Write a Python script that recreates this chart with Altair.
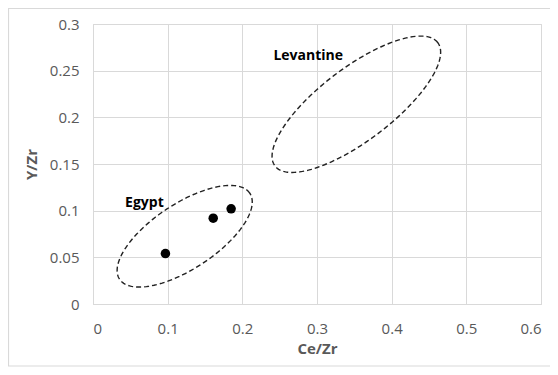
import altair as alt
import numpy as np
import pandas as pd

# Data points (Ce/Zr, Y/Zr)
pts_x = [0.097, 0.161, 0.185]
pts_y = [0.054, 0.092, 0.102]

# Group ellipses: centre, major and minor semi-axis vectors (data units)
ell_names = ["Egypt", "Levantine"]
ell_cx = [0.1228, 0.3527]
ell_cy = [0.0726, 0.2140]
ell_major_dx = [0.0872, 0.1089]
ell_major_dy = [0.0461, 0.0662]
ell_minor_dx = [-0.0242, -0.0298]
ell_minor_dy = [0.0290, 0.0309]

# Group labels
label_text = ["Egypt", "Levantine"]
label_x = [0.043, 0.2416]
label_y = [0.108, 0.266]

x_ticks = [0, 0.1, 0.2, 0.3, 0.4, 0.5, 0.6]
y_ticks = [0, 0.05, 0.1, 0.15, 0.2, 0.25, 0.3]

pts = pd.DataFrame({"x": pts_x, "y": pts_y})

rows = []
t = np.linspace(0, 2 * np.pi, 145)
for k, name in enumerate(ell_names):
    for i, tt in enumerate(t):
        rows.append({
            "name": name,
            "i": i,
            "x": ell_cx[k] + ell_major_dx[k] * np.cos(tt) + ell_minor_dx[k] * np.sin(tt),
            "y": ell_cy[k] + ell_major_dy[k] * np.cos(tt) + ell_minor_dy[k] * np.sin(tt),
        })
ell = pd.DataFrame(rows)
labels = pd.DataFrame({"text": label_text, "x": label_x, "y": label_y})

GRID = "#d9d9d9"
TXT = "#595959"
FONT = "Open Sans"

xs = alt.Scale(domain=[0, 0.6], nice=False, zero=False)
ys = alt.Scale(domain=[0, 0.3], nice=False, zero=False)
xax = alt.Axis(values=x_ticks, format="~g", title="Ce/Zr", grid=True, ticks=False,
               labelPadding=17, titlePadding=5)
yax = alt.Axis(values=y_ticks, format="~g", title="Y/Zr", grid=True, ticks=False,
               labelPadding=14, titlePadding=10)

border = alt.Chart(pd.DataFrame({"a": [0]})).mark_rect(
    filled=False, stroke=GRID, strokeWidth=1.2, clip=False
).encode(
    x=alt.value(-84.5), x2=alt.value(470), y=alt.value(-15.5), y2=alt.value(342)
)

ellipses = alt.Chart(ell).mark_line(
    color="#222222", strokeWidth=1.4, strokeDash=[5, 3]
).encode(
    x=alt.X("x:Q", scale=xs, axis=xax),
    y=alt.Y("y:Q", scale=ys, axis=yax),
    detail="name:N",
    order="i:Q",
)

points = alt.Chart(pts).mark_circle(size=90, color="black", opacity=1).encode(
    x=alt.X("x:Q", scale=xs),
    y=alt.Y("y:Q", scale=ys),
)

texts = alt.Chart(labels).mark_text(
    align="left", baseline="middle", font=FONT, fontSize=14, fontWeight="bold", color="black"
).encode(
    x=alt.X("x:Q", scale=xs),
    y=alt.Y("y:Q", scale=ys),
    text="text:N",
)

chart = alt.layer(border, ellipses, points, texts).properties(
    width=448,
    height=280,
    padding={"left": 85, "top": 16, "right": 9, "bottom": 63},
    autosize=alt.AutoSizeParams(type="none"),
).configure_view(
    stroke=GRID, strokeWidth=1
).configure_axis(
    gridColor=GRID, gridWidth=1, domainColor=GRID, domainWidth=1,
    labelFont=FONT, labelFontSize=15, labelColor=TXT,
    titleFont=FONT, titleFontSize=15, titleColor=TXT, titleFontWeight="bold",
)

chart.save("out.html", embed_options={"renderer": "svg", "actions": False})
